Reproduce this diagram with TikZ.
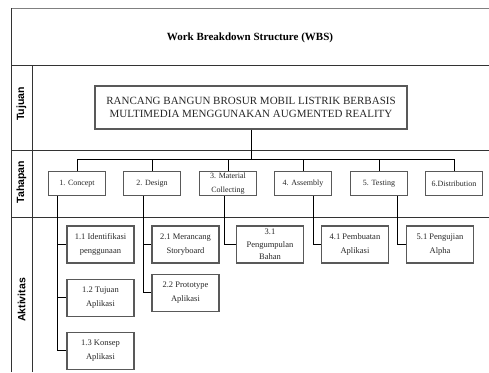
\documentclass[tikz,border=0pt]{standalone}
\usepackage{fontspec}
\setmainfont{Liberation Serif}
\setsansfont{Liberation Sans}
\usetikzlibrary{calc}
\usetikzlibrary{positioning}
\definecolor{boxgray}{gray}{0.35}
\definecolor{linegray}{gray}{0.2}

\begin{document}
\begin{tikzpicture}[x=1pt, y=-1pt,
  every path/.style={line width=0.8pt},
  tabline/.style={draw=linegray, line width=0.9pt},
  rowlabel/.style={rotate=90, font=\sffamily\bfseries\fontsize{10.5}{12}\selectfont},
  goalbox/.style={draw=boxgray, line width=1.1pt, minimum width=312pt,
    minimum height=43pt, align=center, text=black!85,
    font=\fontsize{11}{13.5}\selectfont},
  phasebox/.style={draw=boxgray, line width=1.1pt, minimum width=57pt,
    minimum height=24pt, inner sep=1pt, align=center, text=black!85,
    font=\fontsize{8}{14}\selectfont},
  taskbox/.style={draw=boxgray, line width=1.1pt, minimum width=67pt,
    minimum height=37pt, inner sep=1pt, align=center, text=black!85,
    font=\fontsize{8.5}{14}\selectfont},
  link/.style={draw=black, line width=0.7pt}]
\useasboundingbox (0,0) rectangle (489,372);

% tabel
\draw[tabline, draw=gray] (11,8) -- (489,8);
\draw[tabline] (11,8) -- (11,372);
\draw[tabline] (11,65) -- (489,65);
\draw[tabline] (32,65) -- (32,372);
\draw[tabline] (11,150) -- (489,150);
\draw[tabline] (11,217) -- (489,217);

\node[font=\bfseries\fontsize{11}{13}\selectfont] (title) at (250,38)
  {Work Breakdown Structure (WBS)};
\node[rowlabel] (lbltujuan) at (21.5,104) {Tujuan};
\node[rowlabel] (lbltahapan) at (21.5,182) {Tahapan};
\node[rowlabel] (lblaktivitas) at (21.5,300) {Aktivitas};

% tujuan
\node[goalbox] (goal) at (251,107.5)
  {RANCANG BANGUN BROSUR MOBIL LISTRIK BERBASIS\\
   MULTIMEDIA MENGGUNAKAN AUGMENTED REALITY};

% tahapan
\foreach \i/\x/\t in {1/77/{1. Concept}, 2/152/{2. Design},
  3/228/{3. Material\\Collecting}, 4/303/{4. Assembly},
  5/379/{5. Testing}, 6/454/{6.Distribution}}
  \node[phasebox] (p\i) at (\x,183.5) {\t};

\coordinate (busL) at (77,159);
\coordinate (busR) at (454,159);
\draw[link] (goal.south) -- (goal.south |- busL);
\draw[link] (busL) -- (busR);
\foreach \i in {1,...,6}
  \draw[link] (p\i.north) -- (p\i.north |- busL);

% aktivitas
\node[taskbox] (a11) at (100.5,244.5) {1.1 Identifikasi\\penggunaan};
\node[taskbox, below=15pt of a11] (a12) {1.2 Tujuan\\Aplikasi};
\node[taskbox, below=15pt of a12] (a13) {1.3 Konsep\\Aplikasi};
\node[taskbox] (a21) at (185.5,244.5) {2.1 Merancang\\Storyboard};
\node[taskbox, below=10pt of a21] (a22) {2.2 Prototype\\Aplikasi};
\node[taskbox, font=\fontsize{8.5}{12.5}\selectfont] (a31) at (270,244.5)
  {3.1\\Pengumpulan\\Bahan};
\node[taskbox] (a41) at (355,244.5) {4.1 Pembuatan\\Aplikasi};
\node[taskbox] (a51) at (440,244.5) {5.1 Pengujian\\Alpha};

\coordinate (d1) at ([xshift=-20pt]p1.south);
\coordinate (d2) at ([xshift=-9pt]p2.south);
\coordinate (d3) at ([xshift=-4pt]p3.south);
\coordinate (d4) at ([xshift=10pt]p4.south);
\coordinate (d5) at ([xshift=18pt]p5.south);
\foreach \a in {a11,a12,a13}
  \draw[link] (d1) |- (\a.west);
\foreach \a in {a21,a22}
  \draw[link] (d2) |- (\a.west);
\draw[link] (d3) |- (a31.west);
\draw[link] (d4) |- (a41.west);
\draw[link] (d5) |- (a51.west);
\end{tikzpicture}
\end{document}
